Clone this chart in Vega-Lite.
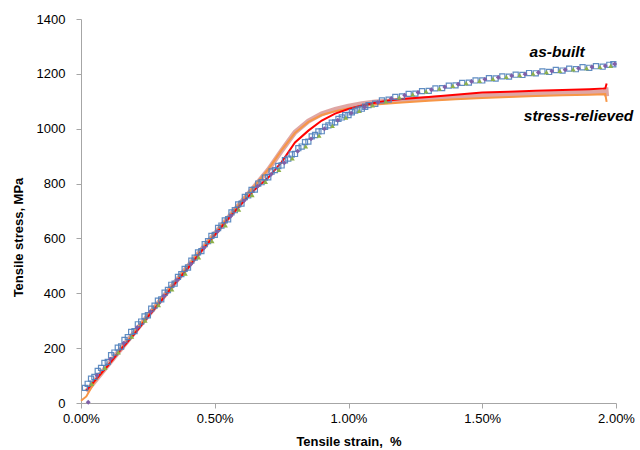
{
  "$schema": "https://vega.github.io/schema/vega-lite/v6.json",
  "width": 535,
  "height": 384,
  "autosize": {"type": "none"},
  "padding": {"left": 81, "top": 19, "right": 24, "bottom": 47},
  "background": "white",
  "config": {
    "view": {"stroke": null},
    "font": "Liberation Sans",
    "axis": {
      "grid": false,
      "domainColor": "#A6A6A6",
      "tickColor": "#A6A6A6",
      "tickSize": 5,
      "labelFont": "Liberation Sans",
      "labelFontSize": 13,
      "labelColor": "#000000",
      "labelFlush": false,
      "titleFont": "Liberation Sans",
      "titleFontSize": 13,
      "titleFontWeight": "bold",
      "titleColor": "#000000"
    }
  },
  "datasets": {
    "curves": [
      {"g":"B","x":0.015,"y":55},{"g":"B","x":0.025,"y":70},{"g":"B","x":0.05,"y":95},{"g":"B","x":0.075,"y":128},{"g":"B","x":0.1,"y":150},{"g":"B","x":0.125,"y":184},{"g":"B","x":0.15,"y":206},{"g":"B","x":0.175,"y":240},{"g":"B","x":0.2,"y":262},{"g":"B","x":0.225,"y":297},{"g":"B","x":0.25,"y":320},{"g":"B","x":0.275,"y":355},{"g":"B","x":0.3,"y":378},{"g":"B","x":0.325,"y":412},{"g":"B","x":0.35,"y":435},{"g":"B","x":0.375,"y":470},{"g":"B","x":0.4,"y":494},{"g":"B","x":0.425,"y":530},{"g":"B","x":0.45,"y":554},{"g":"B","x":0.475,"y":590},{"g":"B","x":0.5,"y":613},{"g":"B","x":0.525,"y":647},{"g":"B","x":0.55,"y":670},{"g":"B","x":0.575,"y":703},{"g":"B","x":0.6,"y":727},{"g":"B","x":0.625,"y":757},{"g":"B","x":0.65,"y":778},{"g":"B","x":0.675,"y":805},{"g":"B","x":0.7,"y":823},{"g":"B","x":0.725,"y":849},{"g":"B","x":0.75,"y":866},{"g":"B","x":0.775,"y":891},{"g":"B","x":0.8,"y":908},{"g":"B","x":0.825,"y":935},{"g":"B","x":0.85,"y":953},{"g":"B","x":0.875,"y":977},{"g":"B","x":0.9,"y":991},{"g":"B","x":0.925,"y":1012},{"g":"B","x":0.95,"y":1023},{"g":"B","x":0.975,"y":1041},{"g":"B","x":1.0,"y":1050},{"g":"B","x":1.025,"y":1066},{"g":"B","x":1.05,"y":1073},{"g":"B","x":1.075,"y":1086},{"g":"B","x":1.1,"y":1091},{"g":"B","x":1.125,"y":1103},{"g":"B","x":1.15,"y":1106},{"g":"B","x":1.175,"y":1116},{"g":"B","x":1.2,"y":1118},{"g":"B","x":1.225,"y":1127},{"g":"B","x":1.25,"y":1128},{"g":"B","x":1.275,"y":1137},{"g":"B","x":1.3,"y":1138},{"g":"B","x":1.325,"y":1147},{"g":"B","x":1.35,"y":1148},{"g":"B","x":1.375,"y":1157},{"g":"B","x":1.4,"y":1158},{"g":"B","x":1.425,"y":1167},{"g":"B","x":1.45,"y":1168},{"g":"B","x":1.475,"y":1176},{"g":"B","x":1.5,"y":1176},{"g":"B","x":1.525,"y":1184},{"g":"B","x":1.55,"y":1183},{"g":"B","x":1.575,"y":1191},{"g":"B","x":1.6,"y":1190},{"g":"B","x":1.625,"y":1197},{"g":"B","x":1.65,"y":1196},{"g":"B","x":1.675,"y":1203},{"g":"B","x":1.7,"y":1202},{"g":"B","x":1.725,"y":1209},{"g":"B","x":1.75,"y":1207},{"g":"B","x":1.775,"y":1214},{"g":"B","x":1.8,"y":1212},{"g":"B","x":1.825,"y":1219},{"g":"B","x":1.85,"y":1217},{"g":"B","x":1.875,"y":1224},{"g":"B","x":1.9,"y":1222},{"g":"B","x":1.925,"y":1228},{"g":"B","x":1.95,"y":1226},{"g":"B","x":1.975,"y":1233},{"g":"B","x":1.99,"y":1235},

      {"g":"B","x":0.0375,"y":89},{"g":"B","x":0.0625,"y":117},{"g":"B","x":0.0875,"y":146},{"g":"B","x":0.1125,"y":174},{"g":"B","x":0.1375,"y":202},{"g":"B","x":0.1625,"y":230},{"g":"B","x":0.1875,"y":259},{"g":"B","x":0.2125,"y":287},{"g":"B","x":0.2375,"y":316},{"g":"B","x":0.2625,"y":344},{"g":"B","x":0.2875,"y":373},{"g":"B","x":0.3125,"y":402},{"g":"B","x":0.3375,"y":431},{"g":"B","x":0.3625,"y":460},{"g":"B","x":0.3875,"y":489},{"g":"B","x":0.4125,"y":519},{"g":"B","x":0.4375,"y":549},{"g":"B","x":0.4625,"y":579},{"g":"B","x":0.4875,"y":609},{"g":"B","x":0.5125,"y":638},{"g":"B","x":0.5375,"y":666},{"g":"B","x":0.5625,"y":695},{"g":"B","x":0.5875,"y":724},{"g":"B","x":0.6125,"y":751},{"g":"B","x":0.6375,"y":777},{"g":"B","x":0.6625,"y":800},{"g":"B","x":0.6875,"y":822},{"g":"B","x":0.7125,"y":844},{"g":"B","x":0.7375,"y":864},{"g":"B","x":0.7625,"y":885},{"g":"B","x":0.7875,"y":906},{"g":"B","x":0.8125,"y":929},{"g":"B","x":0.8375,"y":951},{"g":"B","x":0.8625,"y":972},{"g":"B","x":0.8875,"y":990},{"g":"B","x":0.9125,"y":1007},{"g":"B","x":0.9375,"y":1022},{"g":"B","x":0.9625,"y":1036},{"g":"B","x":0.9875,"y":1049},{"g":"B","x":1.0125,"y":1060},{"g":"B","x":1.0375,"y":1070},{"g":"B","x":1.0625,"y":1080},

      {"g":"G","x":0.04,"y":70},{"g":"G","x":0.09,"y":128},{"g":"G","x":0.14,"y":185},{"g":"G","x":0.19,"y":242},{"g":"G","x":0.24,"y":300},{"g":"G","x":0.29,"y":357},{"g":"G","x":0.34,"y":414},{"g":"G","x":0.39,"y":472},{"g":"G","x":0.44,"y":531},{"g":"G","x":0.49,"y":590},{"g":"G","x":0.54,"y":648},{"g":"G","x":0.59,"y":705},{"g":"G","x":0.64,"y":758},{"g":"G","x":0.69,"y":806},{"g":"G","x":0.74,"y":850},{"g":"G","x":0.79,"y":892},{"g":"G","x":0.84,"y":936},{"g":"G","x":0.89,"y":975},{"g":"G","x":0.94,"y":1010},{"g":"G","x":0.99,"y":1040},{"g":"G","x":1.04,"y":1065},{"g":"G","x":1.09,"y":1085},{"g":"G","x":1.14,"y":1100},{"g":"G","x":1.19,"y":1114},{"g":"G","x":1.24,"y":1125},{"g":"G","x":1.29,"y":1136},{"g":"G","x":1.34,"y":1146},{"g":"G","x":1.39,"y":1156},{"g":"G","x":1.44,"y":1166},{"g":"G","x":1.49,"y":1174},{"g":"G","x":1.54,"y":1182},{"g":"G","x":1.59,"y":1189},{"g":"G","x":1.64,"y":1195},{"g":"G","x":1.69,"y":1201},{"g":"G","x":1.74,"y":1206},{"g":"G","x":1.79,"y":1211},{"g":"G","x":1.84,"y":1216},{"g":"G","x":1.89,"y":1221},{"g":"G","x":1.94,"y":1225},{"g":"G","x":1.98,"y":1229},

      {"g":"P","x":0.027,"y":3},{"g":"P","x":0.06,"y":100},{"g":"P","x":0.11,"y":160},{"g":"P","x":0.16,"y":218},{"g":"P","x":0.21,"y":275},{"g":"P","x":0.26,"y":333},{"g":"P","x":0.31,"y":390},{"g":"P","x":0.36,"y":448},{"g":"P","x":0.41,"y":506},{"g":"P","x":0.46,"y":566},{"g":"P","x":0.51,"y":625},{"g":"P","x":0.56,"y":682},{"g":"P","x":0.61,"y":738},{"g":"P","x":0.66,"y":790},{"g":"P","x":0.71,"y":833},{"g":"P","x":0.76,"y":876},{"g":"P","x":0.81,"y":918},{"g":"P","x":0.86,"y":963},{"g":"P","x":0.91,"y":1000},{"g":"P","x":0.96,"y":1031},{"g":"P","x":1.01,"y":1057},{"g":"P","x":1.06,"y":1078},{"g":"P","x":1.11,"y":1096},{"g":"P","x":1.16,"y":1110},{"g":"P","x":1.21,"y":1122},{"g":"P","x":1.26,"y":1132},{"g":"P","x":1.31,"y":1142},{"g":"P","x":1.36,"y":1152},{"g":"P","x":1.41,"y":1162},{"g":"P","x":1.46,"y":1172},{"g":"P","x":1.51,"y":1180},{"g":"P","x":1.56,"y":1187},{"g":"P","x":1.61,"y":1193},{"g":"P","x":1.66,"y":1199},{"g":"P","x":1.71,"y":1205},{"g":"P","x":1.76,"y":1210},{"g":"P","x":1.81,"y":1215},{"g":"P","x":1.86,"y":1220},{"g":"P","x":1.91,"y":1225},{"g":"P","x":1.96,"y":1229},{"g":"P","x":1.995,"y":1236},

      {"g":"R","x":0.02,"y":45},{"g":"R","x":0.05,"y":80},{"g":"R","x":0.1,"y":135},{"g":"R","x":0.15,"y":196},{"g":"R","x":0.2,"y":252},{"g":"R","x":0.25,"y":314},{"g":"R","x":0.3,"y":372},{"g":"R","x":0.35,"y":434},{"g":"R","x":0.4,"y":492},{"g":"R","x":0.45,"y":554},{"g":"R","x":0.5,"y":612},{"g":"R","x":0.55,"y":671},{"g":"R","x":0.6,"y":726},{"g":"R","x":0.65,"y":778},{"g":"R","x":0.7,"y":822},{"g":"R","x":0.75,"y":878},{"g":"R","x":0.8,"y":950},{"g":"R","x":0.85,"y":993},{"g":"R","x":0.9,"y":1030},{"g":"R","x":0.95,"y":1055},{"g":"R","x":1.0,"y":1072},{"g":"R","x":1.05,"y":1085},{"g":"R","x":1.1,"y":1095},{"g":"R","x":1.15,"y":1103},{"g":"R","x":1.2,"y":1108},{"g":"R","x":1.3,"y":1116},{"g":"R","x":1.4,"y":1124},{"g":"R","x":1.5,"y":1132},{"g":"R","x":1.6,"y":1135},{"g":"R","x":1.7,"y":1138},{"g":"R","x":1.8,"y":1141},{"g":"R","x":1.9,"y":1144},{"g":"R","x":1.96,"y":1147},{"g":"R","x":1.965,"y":1165},

      {"g":"O","x":0.0,"y":8},{"g":"O","x":0.02,"y":24},{"g":"O","x":0.05,"y":76},{"g":"O","x":0.1,"y":136},{"g":"O","x":0.15,"y":198},{"g":"O","x":0.2,"y":258},{"g":"O","x":0.25,"y":320},{"g":"O","x":0.3,"y":380},{"g":"O","x":0.35,"y":440},{"g":"O","x":0.4,"y":500},{"g":"O","x":0.45,"y":560},{"g":"O","x":0.5,"y":619},{"g":"O","x":0.55,"y":677},{"g":"O","x":0.6,"y":736},{"g":"O","x":0.65,"y":793},{"g":"O","x":0.7,"y":852},{"g":"O","x":0.75,"y":922},{"g":"O","x":0.8,"y":985},{"g":"O","x":0.85,"y":1025},{"g":"O","x":0.9,"y":1050},{"g":"O","x":0.95,"y":1064},{"g":"O","x":1.0,"y":1074},{"g":"O","x":1.05,"y":1082},{"g":"O","x":1.1,"y":1088},{"g":"O","x":1.2,"y":1096},{"g":"O","x":1.3,"y":1102},{"g":"O","x":1.4,"y":1107},{"g":"O","x":1.5,"y":1112},{"g":"O","x":1.6,"y":1116},{"g":"O","x":1.7,"y":1119},{"g":"O","x":1.8,"y":1122},{"g":"O","x":1.9,"y":1124},{"g":"O","x":1.96,"y":1126},{"g":"O","x":1.965,"y":1098},

      {"g":"K","x":0.02,"y":42},{"g":"K","x":0.05,"y":78},{"g":"K","x":0.1,"y":138},{"g":"K","x":0.15,"y":198},{"g":"K","x":0.2,"y":258},{"g":"K","x":0.25,"y":318},{"g":"K","x":0.3,"y":378},{"g":"K","x":0.35,"y":438},{"g":"K","x":0.4,"y":498},{"g":"K","x":0.45,"y":558},{"g":"K","x":0.5,"y":617},{"g":"K","x":0.55,"y":675},{"g":"K","x":0.6,"y":733},{"g":"K","x":0.65,"y":791},{"g":"K","x":0.7,"y":850},{"g":"K","x":0.75,"y":920},{"g":"K","x":0.8,"y":987},{"g":"K","x":0.85,"y":1028},{"g":"K","x":0.9,"y":1054},{"g":"K","x":0.95,"y":1070},{"g":"K","x":1.0,"y":1082},{"g":"K","x":1.05,"y":1091},{"g":"K","x":1.1,"y":1097},{"g":"K","x":1.2,"y":1104},{"g":"K","x":1.3,"y":1110},{"g":"K","x":1.4,"y":1115},{"g":"K","x":1.5,"y":1120},{"g":"K","x":1.6,"y":1124},{"g":"K","x":1.7,"y":1127},{"g":"K","x":1.8,"y":1130},{"g":"K","x":1.9,"y":1133},{"g":"K","x":1.96,"y":1135},{"g":"K","x":1.962,"y":1150},{"g":"K","x":1.965,"y":1118}
    ],
    "labels": [
      {"label":"as-built","x":1.78,"y":1280},
      {"label":"stress-relieved","x":1.86,"y":1048}
    ]
  },
  "encoding": {
    "x": {
      "field": "x", "type": "quantitative",
      "scale": {"domain": [0, 2], "nice": false},
      "axis": {
        "values": [0, 0.5, 1, 1.5, 2],
        "labelExpr": "format(datum.value, '.2f') + '%'",
        "labelPadding": 4,
        "title": "Tensile strain,\u00a0 %",
        "titleY": 38,
        "titleBaseline": "middle"
      }
    },
    "y": {
      "field": "y", "type": "quantitative",
      "scale": {"domain": [0, 1400], "nice": false},
      "axis": {
        "values": [0, 200, 400, 600, 800, 1000, 1200, 1400],
        "format": "d",
        "labelPadding": 11,
        "title": "Tensile stress, MPa",
        "titleX": -63,
        "titleY": 218,
        "titleAngle": 270,
        "titleAlign": "center",
        "titleBaseline": "middle"
      }
    }
  },
  "layer": [
    {
      "data": {"name": "curves"},
      "transform": [{"filter": "datum.g == 'K'"}],
      "mark": {"type": "line", "color": "#D99694", "strokeWidth": 5, "opacity": 0.85}
    },
    {
      "data": {"name": "curves"},
      "transform": [{"filter": "datum.g == 'O'"}],
      "mark": {"type": "line", "color": "#F79646", "strokeWidth": 2}
    },
    {
      "data": {"name": "curves"},
      "transform": [{"filter": "datum.g == 'R'"}],
      "mark": {"type": "line", "color": "#FF0000", "strokeWidth": 2}
    },
    {
      "data": {"name": "curves"},
      "transform": [{"filter": "datum.g == 'B'"}],
      "mark": {"type": "point", "shape": "square", "filled": false, "color": "#4F81BD", "size": 26, "strokeWidth": 1.2, "opacity": 0.9}
    },
    {
      "data": {"name": "curves"},
      "transform": [{"filter": "datum.g == 'G'"}],
      "mark": {"type": "point", "shape": "triangle-up", "filled": true, "color": "#8DB04A", "size": 24, "opacity": 1}
    },
    {
      "data": {"name": "curves"},
      "transform": [{"filter": "datum.g == 'P'"}],
      "mark": {"type": "point", "shape": "diamond", "filled": true, "color": "#7F5FA8", "size": 24, "opacity": 1}
    },
    {
      "data": {"name": "labels"},
      "mark": {"type": "text", "font": "Liberation Sans", "fontSize": 15.5, "fontWeight": "bold", "fontStyle": "italic", "color": "#000000", "align": "center", "baseline": "middle"},
      "encoding": {"text": {"field": "label"}}
    }
  ]
}
